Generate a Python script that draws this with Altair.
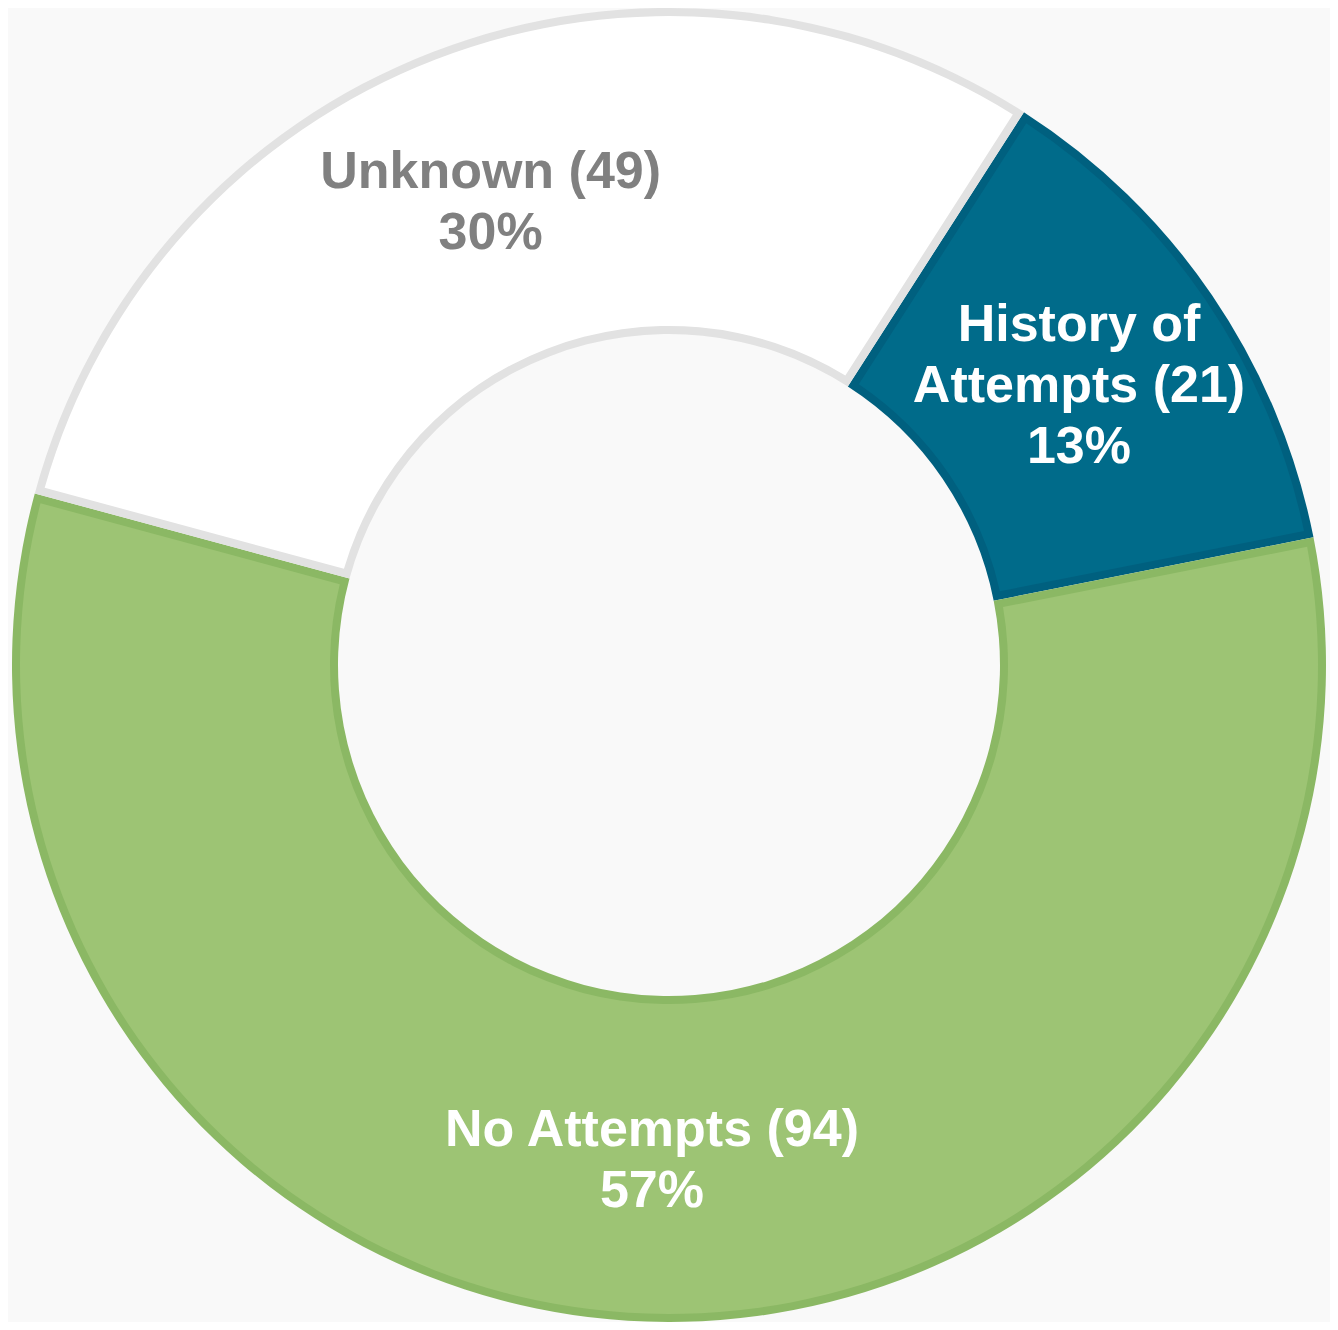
import math
import altair as alt
import pandas as pd

categories = ["History of Attempts", "No Attempts", "Unknown"]
label_lines = ["History of\nAttempts", "No Attempts", "Unknown"]
counts = [21, 94, 49]
order_idx = [0, 1, 2]

edge_colors = ["#00607f", "#8bb864", "#e2e2e2"]
fill_colors = ["#006b8a", "#9dc474", "#ffffff"]
text_colors = ["#ffffff", "#ffffff", "#808080"]

total = sum(counts)
labels = [f"{l} ({c})\n{round(100 * c / total)}%" for l, c in zip(label_lines, counts)]
df = pd.DataFrame({
    "category": categories,
    "count": counts,
    "idx": order_idx,
    "label": labels,
    "nlines": [s.count("\n") + 1 for s in labels],
})

start = math.radians(32.7)
theta_scale = alt.Scale(range=[start, start + 2 * math.pi])
theta = alt.Theta("count:Q", stack=True, scale=theta_scale)
order = alt.Order("idx:O")

base = alt.Chart(df).mark_arc(radius=657, innerRadius=331).encode(
    theta=theta, order=order,
    color=alt.Color("category:N", scale=alt.Scale(domain=categories, range=edge_colors), legend=None),
)

top = alt.Chart(df).mark_arc(radius=649, innerRadius=339, padAngle=0.0219).encode(
    theta=theta, order=order,
    color=alt.Color("category:N", scale=alt.Scale(domain=categories, range=fill_colors), legend=None),
)

text_base = alt.Chart(df).transform_stack(
    stack="count", as_=["t0", "t1"], groupby=[], sort=[alt.SortField("idx", order="ascending")]
).transform_calculate(tmid="(datum.t0 + datum.t1) / 2")

LH = 61


def text_layer(n):
    return text_base.transform_filter(f"datum.nlines == {n}").mark_text(
        radius=496, font="Liberation Sans", fontWeight="bold", fontSize=52,
        lineHeight=LH, lineBreak="\n", align="center", baseline="middle",
        dy=-(n - 1) * LH / 2,
    ).encode(
        theta=alt.Theta("tmid:Q", stack=False, scale=theta_scale),
        text="label:N",
        color=alt.Color("category:N", scale=alt.Scale(domain=categories, range=text_colors), legend=None),
    )


chart = alt.layer(base, top, text_layer(2), text_layer(3)).resolve_scale(color="independent").properties(
    width=1322, height=1314,
    autosize=alt.AutoSizeParams(type="fit", contains="padding"),
    padding=0,
    background="#f9f9f9",
).configure_view(stroke=None)

chart.save("out.html", embed_options={"renderer": "svg", "actions": False})
